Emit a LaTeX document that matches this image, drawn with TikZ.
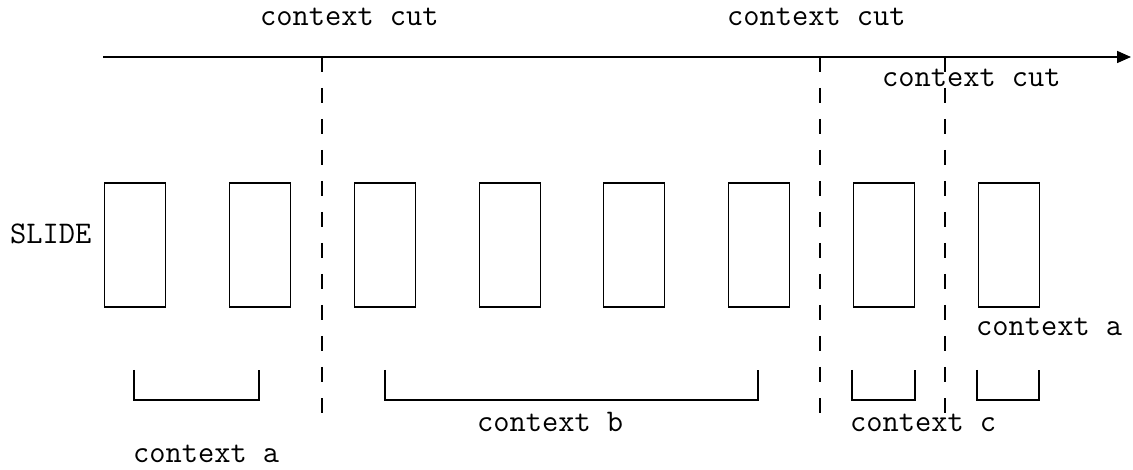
\documentclass[tikz,border=0pt]{standalone}
\usepackage{fontspec}
\usetikzlibrary{arrows.meta}
\begin{document}
\begin{tikzpicture}[x=1pt,y=-1pt,
  lbl/.style={font=\ttfamily\fontsize{31.5}{33}\selectfont, inner sep=0pt, anchor=base west},
  slide/.style={draw, line width=1.6pt, minimum width=61pt, minimum height=124pt, inner sep=0pt, anchor=north west},
  cut/.style={line width=1.6pt, dash pattern=on 15pt off 16pt},
  brace/.style={line width=1.6pt}]
\useasboundingbox (0,0) rectangle (1133,470);

% time axis
\coordinate (t0) at (103,57);
\coordinate (t1) at (1131,57);
\draw[line width=1.6pt, -{Triangle[length=14pt,width=12pt]}] (t0) -- (t1);

% context cuts
\foreach \n/\x in {c1/322, c2/820, c3/945} {
  \coordinate (\n top) at (\x,57);
  \coordinate (\n bot) at (\x,413);
  \draw[cut] (\n top) -- (\n bot);
}
\node[lbl] (cutA) at (260,26) {context cut};
\node[lbl] (cutB) at (727,26) {context cut};
\node[lbl] (cutC) at (882,87) {context cut};

% slides
\node[lbl] (slidelbl) at (10,244) {SLIDE};
\foreach \i/\x in {1/103.5, 2/228.5, 3/353.5, 4/478.5, 5/602.5, 6/727.5, 7/852.5, 8/977.5} {
  \node[slide] (s\i) at (\x,182.5) {};
}

% context groups
\coordinate (ba1) at (134,370); \coordinate (ba2) at (134,400);
\coordinate (ba3) at (259,400); \coordinate (ba4) at (259,370);
\draw[brace] (ba1) -- (ba2) -- (ba3) -- (ba4);
\coordinate (bb1) at (385,370); \coordinate (bb2) at (385,400);
\coordinate (bb3) at (758,400); \coordinate (bb4) at (758,370);
\draw[brace] (bb1) -- (bb2) -- (bb3) -- (bb4);
\coordinate (bc1) at (852,370); \coordinate (bc2) at (852,400);
\coordinate (bc3) at (915,400); \coordinate (bc4) at (915,370);
\draw[brace] (bc1) -- (bc2) -- (bc3) -- (bc4);
\coordinate (bd1) at (977,370); \coordinate (bd2) at (977,400);
\coordinate (bd3) at (1039,400); \coordinate (bd4) at (1039,370);
\draw[brace] (bd1) -- (bd2) -- (bd3) -- (bd4);

\node[lbl] (ctxa) at (133,462) {context a};
\node[lbl] (ctxb) at (477,431) {context b};
\node[lbl] (ctxc) at (850,431) {context c};
\node[lbl] (ctxa2) at (976,336) {context a};
\end{tikzpicture}
\end{document}
